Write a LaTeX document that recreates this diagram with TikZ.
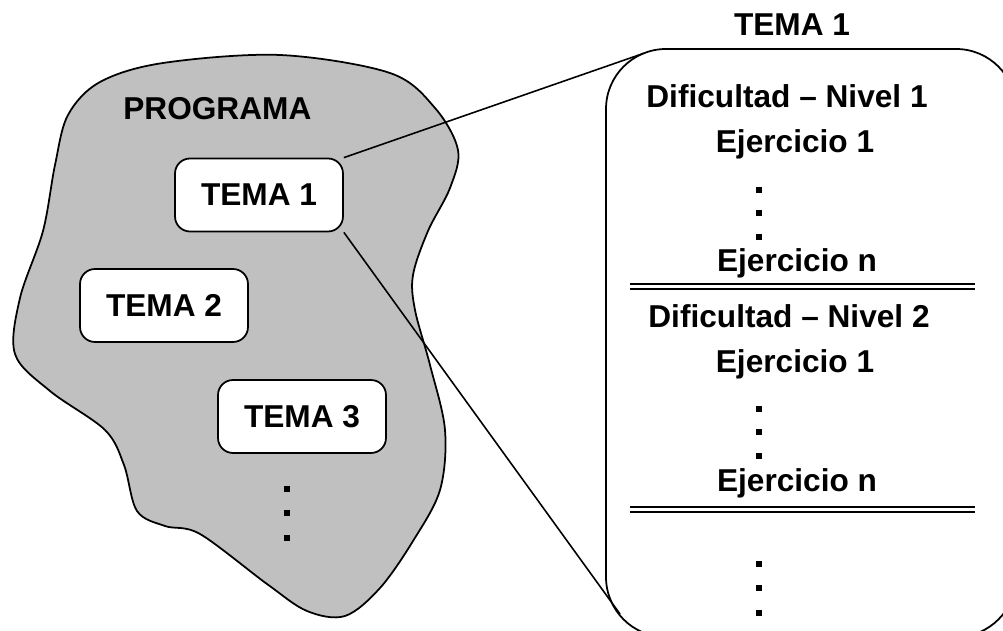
\documentclass[tikz,border=0pt]{standalone}
\usepackage{fontspec}
\setmainfont{Liberation Sans}
\usetikzlibrary{calc}
\definecolor{fondogris}{RGB}{192,192,192}

\tikzset{
  letra/.style={font=\fontsize{18}{22}\selectfont\bfseries},
  tema/.style={letra,draw,line width=1pt,fill=white,rounded corners=0.3cm,
    minimum width=3.36cm,minimum height=1.46cm,inner sep=0pt},
  rotulo/.style={letra,anchor=base,inner sep=0pt},
  punto/.style={fill=black,inner sep=0pt,minimum size=0.13cm},
}

\begin{document}
\begin{tikzpicture}[x=0.02cm,y=-0.02cm]
\useasboundingbox (0,0) rectangle (1003,631);
\clip (0,0) rectangle (1003,631);
% ---------- programa ----------
\draw[line width=1pt,fill=fondogris] plot[smooth cycle,tension=0.55] coordinates {
  (280,55) (390,73) (435,108) (458,150) (450,188) (428,231) (413,275) (415,310)
  (430,365) (445,430) (440,490) (413,541) (380,588) (345,616) (307,611) (267,584)
  (200,534) (165,526) (137,511) (124,465) (105,430) (50,391) (15,354) (20,298)
  (43,231) (55,165) (68,115) (100,82) (163,63)};
\node[rotulo,anchor=base west] (programa) at (123,120) {PROGRAMA};
\node[tema] (tema1) at (259,195) {TEMA 1};
\node[tema] (tema2) at (164,305.5) {TEMA 2};
\node[tema] (tema3) at (302,416.5) {TEMA 3};
\foreach \y [count=\i] in {489,513,538}
  \node[punto] (pp\i) at (287,\y) {};
% ---------- detalle del tema ----------
\draw[line width=1pt,rounded corners=1.2cm] (606,49) rectangle (1016,637);
\coordinate (esqsup) at (643.5,53.4);
\coordinate (esqinf) at (620,614);
\draw[line width=0.9pt] (tema1.north east) -- (esqsup);
\draw[line width=0.9pt] (tema1.south east) -- (esqinf);
% textos del detalle
\node[rotulo] (titulo) at (792,36) {TEMA 1};
\node[rotulo] (nivel1) at (787,108) {Dificultad \textendash{} Nivel 1};
\node[rotulo] (ej1a) at (795,153) {Ejercicio 1};
\node[rotulo] (ejna) at (797,272) {Ejercicio n};
\node[rotulo] (nivel2) at (789,327) {Dificultad \textendash{} Nivel 2};
\node[rotulo] (ej1b) at (795,372) {Ejercicio 1};
\node[rotulo] (ejnb) at (797,491) {Ejercicio n};
\foreach \y [count=\i] in {190,213,237,409,432,456,564,588,613}
  \node[punto] (pd\i) at (759,\y) {};
% dobles rayas
\foreach \y in {284,289,507,512}
  \draw[line width=1pt] (630,\y) -- (975,\y);
\end{tikzpicture}
\end{document}
